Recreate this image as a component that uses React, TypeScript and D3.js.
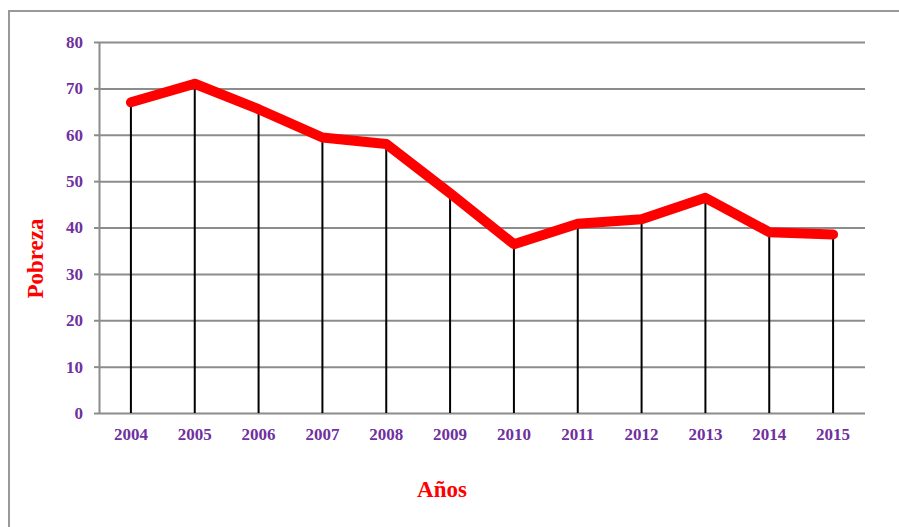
import React, { useEffect, useRef } from "react";
import * as d3 from "d3";

const years = ["2004", "2005", "2006", "2007", "2008", "2009", "2010", "2011", "2012", "2013", "2014", "2015"];
const pobreza = [67, 71, 65.5, 59.4, 58, 47.4, 36.4, 40.8, 41.8, 46.4, 39, 38.5];
const yTicks = [0, 10, 20, 30, 40, 50, 60, 70, 80];

const W = 899;
const H = 527;
const purple = "#7030a0";
const serif = "'Liberation Serif', 'Times New Roman', serif";

const App = () => {
  const svgRef = useRef<SVGSVGElement | null>(null);

  useEffect(() => {
    const svg = d3.select(svgRef.current);
    svg.selectAll("*").remove();

    const margin = { top: 42, right: 34, bottom: 114, left: 99 };

    const x = d3
      .scaleBand<string>()
      .domain(years)
      .range([margin.left, W - margin.right]);

    const y = d3
      .scaleLinear()
      .domain([0, 80])
      .range([H - margin.bottom, margin.top]);

    // outer frame (partly cut off)
    svg
      .append("path")
      .attr("d", `M9,${H} L9,11 L${W},11`)
      .attr("fill", "none")
      .attr("stroke", "#999")
      .attr("stroke-width", 2);

    // horizontal gridlines
    svg
      .append("g")
      .attr("transform", `translate(${margin.left},0)`)
      .call(
        d3
          .axisLeft(y)
          .tickValues(yTicks)
          .tickSize(-(W - margin.left - margin.right))
          .tickFormat(() => "")
      )
      .call((g) => g.select(".domain").remove())
      .selectAll("line")
      .attr("stroke", "#8c8c8c")
      .attr("stroke-width", 2);

    // y axis line + tick marks
    svg
      .append("g")
      .attr("transform", `translate(${margin.left},0)`)
      .call(d3.axisLeft(y).tickValues(yTicks).tickSize(5).tickSizeOuter(0).tickPadding(11))
      .call((g) => g.select(".domain").attr("stroke", "#8c8c8c").attr("stroke-width", 2))
      .call((g) => g.selectAll("line").attr("stroke", "#8c8c8c").attr("stroke-width", 2))
      .selectAll("text")
      .attr("fill", purple)
      .style("font-family", serif)
      .style("font-weight", "bold")
      .style("font-size", "17px");

    // x axis labels
    svg
      .append("g")
      .attr("transform", `translate(0,${y(0)})`)
      .call(d3.axisBottom(x).tickSize(0).tickPadding(15))
      .call((g) => g.select(".domain").remove())
      .selectAll("text")
      .attr("fill", purple)
      .style("font-family", serif)
      .style("font-weight", "bold")
      .style("font-size", "17px");

    const cx = (d: string) => (x(d) ?? 0) + x.bandwidth() / 2;

    // drop lines
    svg
      .append("g")
      .selectAll("line")
      .data(years)
      .enter()
      .append("line")
      .attr("x1", (d) => cx(d))
      .attr("x2", (d) => cx(d))
      .attr("y1", (d, i) => y(pobreza[i]))
      .attr("y2", y(0))
      .attr("stroke", "#000")
      .attr("stroke-width", 2);

    const line = d3
      .line<number>()
      .x((d, i) => cx(years[i]))
      .y((d) => y(d));

    svg
      .append("path")
      .datum(pobreza)
      .attr("fill", "none")
      .attr("stroke", "#ff0000")
      .attr("stroke-width", 10)
      .attr("stroke-linejoin", "round")
      .attr("stroke-linecap", "round")
      .attr("d", line);

    svg
      .append("text")
      .attr("transform", `translate(43,${(y(0) + y(80)) / 2 + 31}) rotate(-90)`)
      .attr("text-anchor", "middle")
      .attr("fill", "#ff0000")
      .style("font-family", serif)
      .style("font-weight", "bold")
      .style("font-size", "23px")
      .text("Pobreza");

    svg
      .append("text")
      .attr("x", (margin.left + W - margin.right) / 2 - 40)
      .attr("y", 497)
      .attr("text-anchor", "middle")
      .attr("fill", "#ff0000")
      .style("font-family", serif)
      .style("font-weight", "bold")
      .style("font-size", "23px")
      .text("Años");
  }, []);

  return (
    <svg
      ref={svgRef}
      width={W}
      height={H}
      style={{ position: "absolute", left: 0, top: 0, background: "#fff" }}
    ></svg>
  );
};

export default App;
